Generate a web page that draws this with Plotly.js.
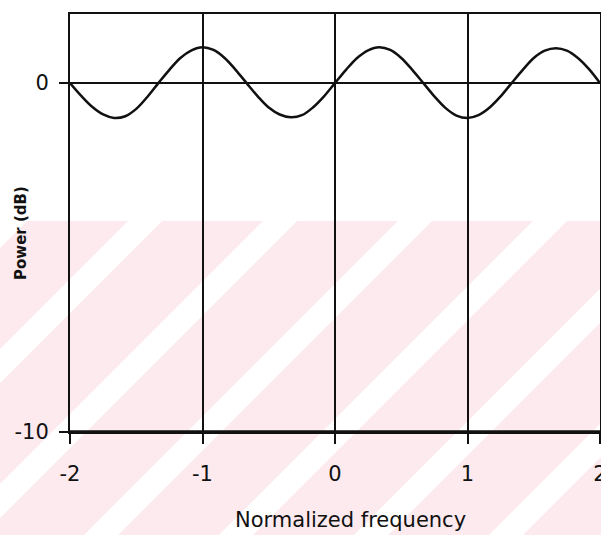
<!DOCTYPE html>
<html>
<head>
<meta charset="utf-8">
<script src="https://cdn.plot.ly/plotly-3.0.1.min.js"></script>
<style>html,body{margin:0;padding:0;background:#fff;}#chart{width:601px;height:535px;}</style>
</head>
<body>
<div id="chart"></div>
<script>
// Normalized frequency values
const freq = [-2.000,-1.917,-1.833,-1.750,-1.667,-1.583,-1.500,-1.417,-1.333,-1.250,-1.167,-1.083,
  -1.000,-0.917,-0.833,-0.750,-0.667,-0.583,-0.500,-0.417,-0.333,-0.250,-0.167,-0.083,
  0.000,0.083,0.167,0.250,0.333,0.417,0.500,0.583,0.667,0.750,0.833,0.917,
  1.000,1.083,1.167,1.250,1.333,1.417,1.500,1.583,1.667,1.750,1.833,1.917,2.000];
// Power (dB) values
const powerDb = [0.00,-0.36,-0.68,-0.90,-1.00,-0.95,-0.74,-0.40,0.00,0.38,0.72,0.94,
  1.03,0.95,0.72,0.38,0.00,-0.38,-0.70,-0.90,-0.98,-0.92,-0.70,-0.38,
  0.00,0.38,0.72,0.94,1.03,0.95,0.72,0.38,0.00,-0.38,-0.71,-0.93,
  -1.00,-0.92,-0.70,-0.38,0.00,0.38,0.72,0.93,1.00,0.93,0.72,0.40,0.00];
const xTickVals = [-2,-1,0,1,2];
const xTickText = ['-2','-1','0','1','2'];
const yTickVals = [-10,0];
const yTickText = ['-10','0'];

// layout geometry (pixels)
const W = 601, H = 535, L = 70, R = 600, T = 14, B = 432;
const px = x => (x - L) / (R - L);
const py = y => (B - y) / (B - T);

// faint watermark: pink band with white diagonal stripes
const shapes = [];
shapes.push({type:'rect', xref:'paper', yref:'paper', layer:'below',
  x0:px(0), x1:px(W), y0:py(221), y1:py(H), fillcolor:'#fdeaee', line:{width:0}});
[-7,128,263,398,533,668,803].forEach(a => {
  const d = H - 221;
  const path = `M ${px(a)} ${py(221)} L ${px(a+34)} ${py(221)} L ${px(a+34-d)} ${py(H)} L ${px(a-d)} ${py(H)} Z`;
  shapes.push({type:'path', xref:'paper', yref:'paper', layer:'below', path:path,
    fillcolor:'#ffffff', line:{width:0}});
});
// thick bottom axis line
shapes.push({type:'line', xref:'paper', yref:'paper', x0:0, x1:1, y0:0, y1:0,
  line:{color:'#111', width:3.5}});

const trace = {
  x: freq, y: powerDb, type:'scatter', mode:'lines',
  line:{color:'#111', width:2.5, shape:'spline'}, hoverinfo:'skip'
};

const layout = {
  width: W, height: H,
  margin:{l:L, r:W-R, t:T, b:H-B, pad:0},
  paper_bgcolor:'#ffffff', plot_bgcolor:'rgba(0,0,0,0)',
  showlegend:false,
  font:{family:'DejaVu Sans, sans-serif', color:'#111'},
  xaxis:{range:[-2,2], tickvals:xTickVals, ticktext:xTickText,
    showgrid:true, gridcolor:'#111', gridwidth:2, zeroline:false,
    showline:true, linecolor:'#111', linewidth:2, mirror:true,
    ticks:'outside', ticklen:10, tickwidth:2, tickcolor:'#111',
    tickfont:{size:21, color:'#111'}, ticklabelstandoff:12,
    ticklabeloverflow:'allow', fixedrange:true},
  yaxis:{range:[-10,1.98], tickvals:yTickVals, ticktext:yTickText,
    showgrid:true, gridcolor:'#111', gridwidth:2, zeroline:false,
    showline:true, linecolor:'#111', linewidth:2, mirror:true,
    ticks:'outside', ticklen:9, tickwidth:2, tickcolor:'#111',
    tickfont:{size:21, color:'#111'}, ticklabelstandoff:6, fixedrange:true},
  shapes: shapes,
  annotations:[
    {text:'Normalized frequency', xref:'paper', yref:'paper', x:px(350), y:py(520),
      xanchor:'center', yanchor:'middle', showarrow:false, font:{size:21, color:'#111'}},
    {text:'<b>Power (dB)</b>', xref:'paper', yref:'paper', x:px(21), y:py(233),
      xanchor:'center', yanchor:'middle', showarrow:false, textangle:-90,
      font:{size:15, color:'#111'}}
  ]
};

Plotly.newPlot('chart', [trace], layout, {staticPlot:true, displayModeBar:false});
</script>
</body>
</html>
